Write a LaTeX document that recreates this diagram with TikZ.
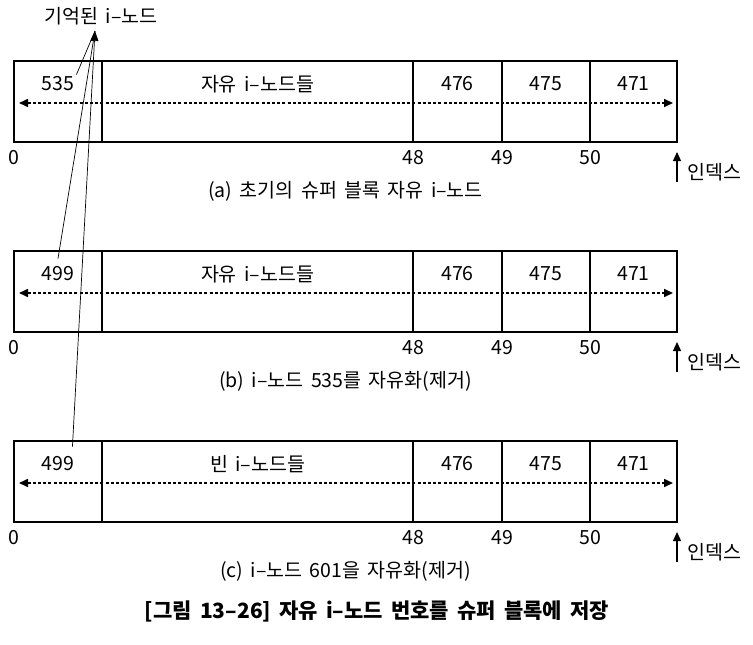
\documentclass[tikz,border=0pt]{standalone}
\usepackage{fontspec}
\setmainfont[WordSpace=1.7]{Noto Sans CJK KR}
\usetikzlibrary{arrows.meta, positioning, calc}

\begin{document}
\begin{tikzpicture}[x=1bp, y=-1bp,
  cell/.style={draw, line width=1.5bp, minimum height=81bp, inner sep=0pt, outer sep=0pt},
  txt/.style={font=\fontsize{19.5bp}{22bp}\selectfont, inner sep=2bp},
  dbl/.style={{Triangle[length=9bp,width=8bp]}-{Triangle[length=9bp,width=8bp]},
              dash pattern=on 3bp off 2.2bp, line width=1.6bp},
  up/.style={-{Triangle[length=9bp,width=8bp]}, line width=1.2bp},
  ptr/.style={line width=0.7bp},
  ttl/.style={font=\fontsize{21bp}{24bp}\selectfont\bfseries, inner sep=2bp}]
\useasboundingbox (0,0) rectangle (753,645);

\foreach \r/\ty/\num/\mid/\cap in {
    a/61/535/자유 i–노드들/(a) 초기의 슈퍼 블록 자유 i–노드,
    b/251/499/자유 i–노드들/(b) i–노드 535를 자유화(제거),
    c/441/499/빈 i–노드들/(c) i–노드 601을 자유화(제거)} {
  % cells of one row
  \node[cell, minimum width=88bp, anchor=north west] (\r1) at (14,\ty) {};
  \node[cell, minimum width=311bp, right=0pt of \r1] (\r2) {};
  \node[cell, minimum width=89bp, right=0pt of \r2] (\r3) {};
  \node[cell, minimum width=88bp, right=0pt of \r3] (\r4) {};
  \node[cell, minimum width=87bp, right=0pt of \r4] (\r5) {};
  % contents
  \node[txt] (\r n) at ([yshift=-23bp]\r1.north) {\num};
  \node[txt] (\r m) at ([yshift=-23bp]\r2.north) {\mid};
  \node[txt] (\r p) at ([yshift=-23bp]\r3.north) {476};
  \node[txt] (\r q) at ([yshift=-23bp]\r4.north) {475};
  \node[txt] (\r s) at ([yshift=-23bp]\r5.north) {471};
  \coordinate (\r L) at ([xshift=5bp, yshift=-1.5bp]\r1.west);
  \coordinate (\r R) at ([xshift=-4bp, yshift=-1.5bp]\r5.east);
  \draw[dbl] (\r L) -- (\r R);
  % indices
  \node[txt] (\r i0) at ([yshift=-16bp]\r1.south west) {0};
  \node[txt] (\r i1) at ([yshift=-16bp]\r2.south east) {48};
  \node[txt] (\r i2) at ([yshift=-16bp]\r3.south east) {49};
  \node[txt] (\r i3) at ([yshift=-16bp]\r4.south east) {50};
  \coordinate (\r x) at ([yshift=-40bp]\r5.south east);
  \coordinate (\r xt) at ([yshift=-10bp]\r5.south east);
  \draw[up] (\r x) -- (\r xt);
  \node[txt, anchor=west] (\r k) at ([xshift=8bp, yshift=-30bp]\r5.south east) {인덱스};
  \node[txt] (\r cap) at ([yshift=-49bp]$(\r1.south west)!0.5!(\r5.south east)$) {\cap};
}

% remembered i-node
\node[txt] (mem) at (101,16) {기억된 i–노드};
\coordinate (memtip) at (95,31);
\draw[ptr] (an.north east) -- (memtip);
\draw[ptr] ([yshift=6bp]bn.north) -- (memtip);
\draw[ptr, -{Triangle[length=10bp,width=8bp]}] ([xshift=-4bp, yshift=8bp]cn.north east) -- (memtip);

\node[ttl] (title) at (377,611) {[그림 13–26] 자유 i–노드 번호를 슈퍼 블록에 저장};
\end{tikzpicture}
\end{document}
